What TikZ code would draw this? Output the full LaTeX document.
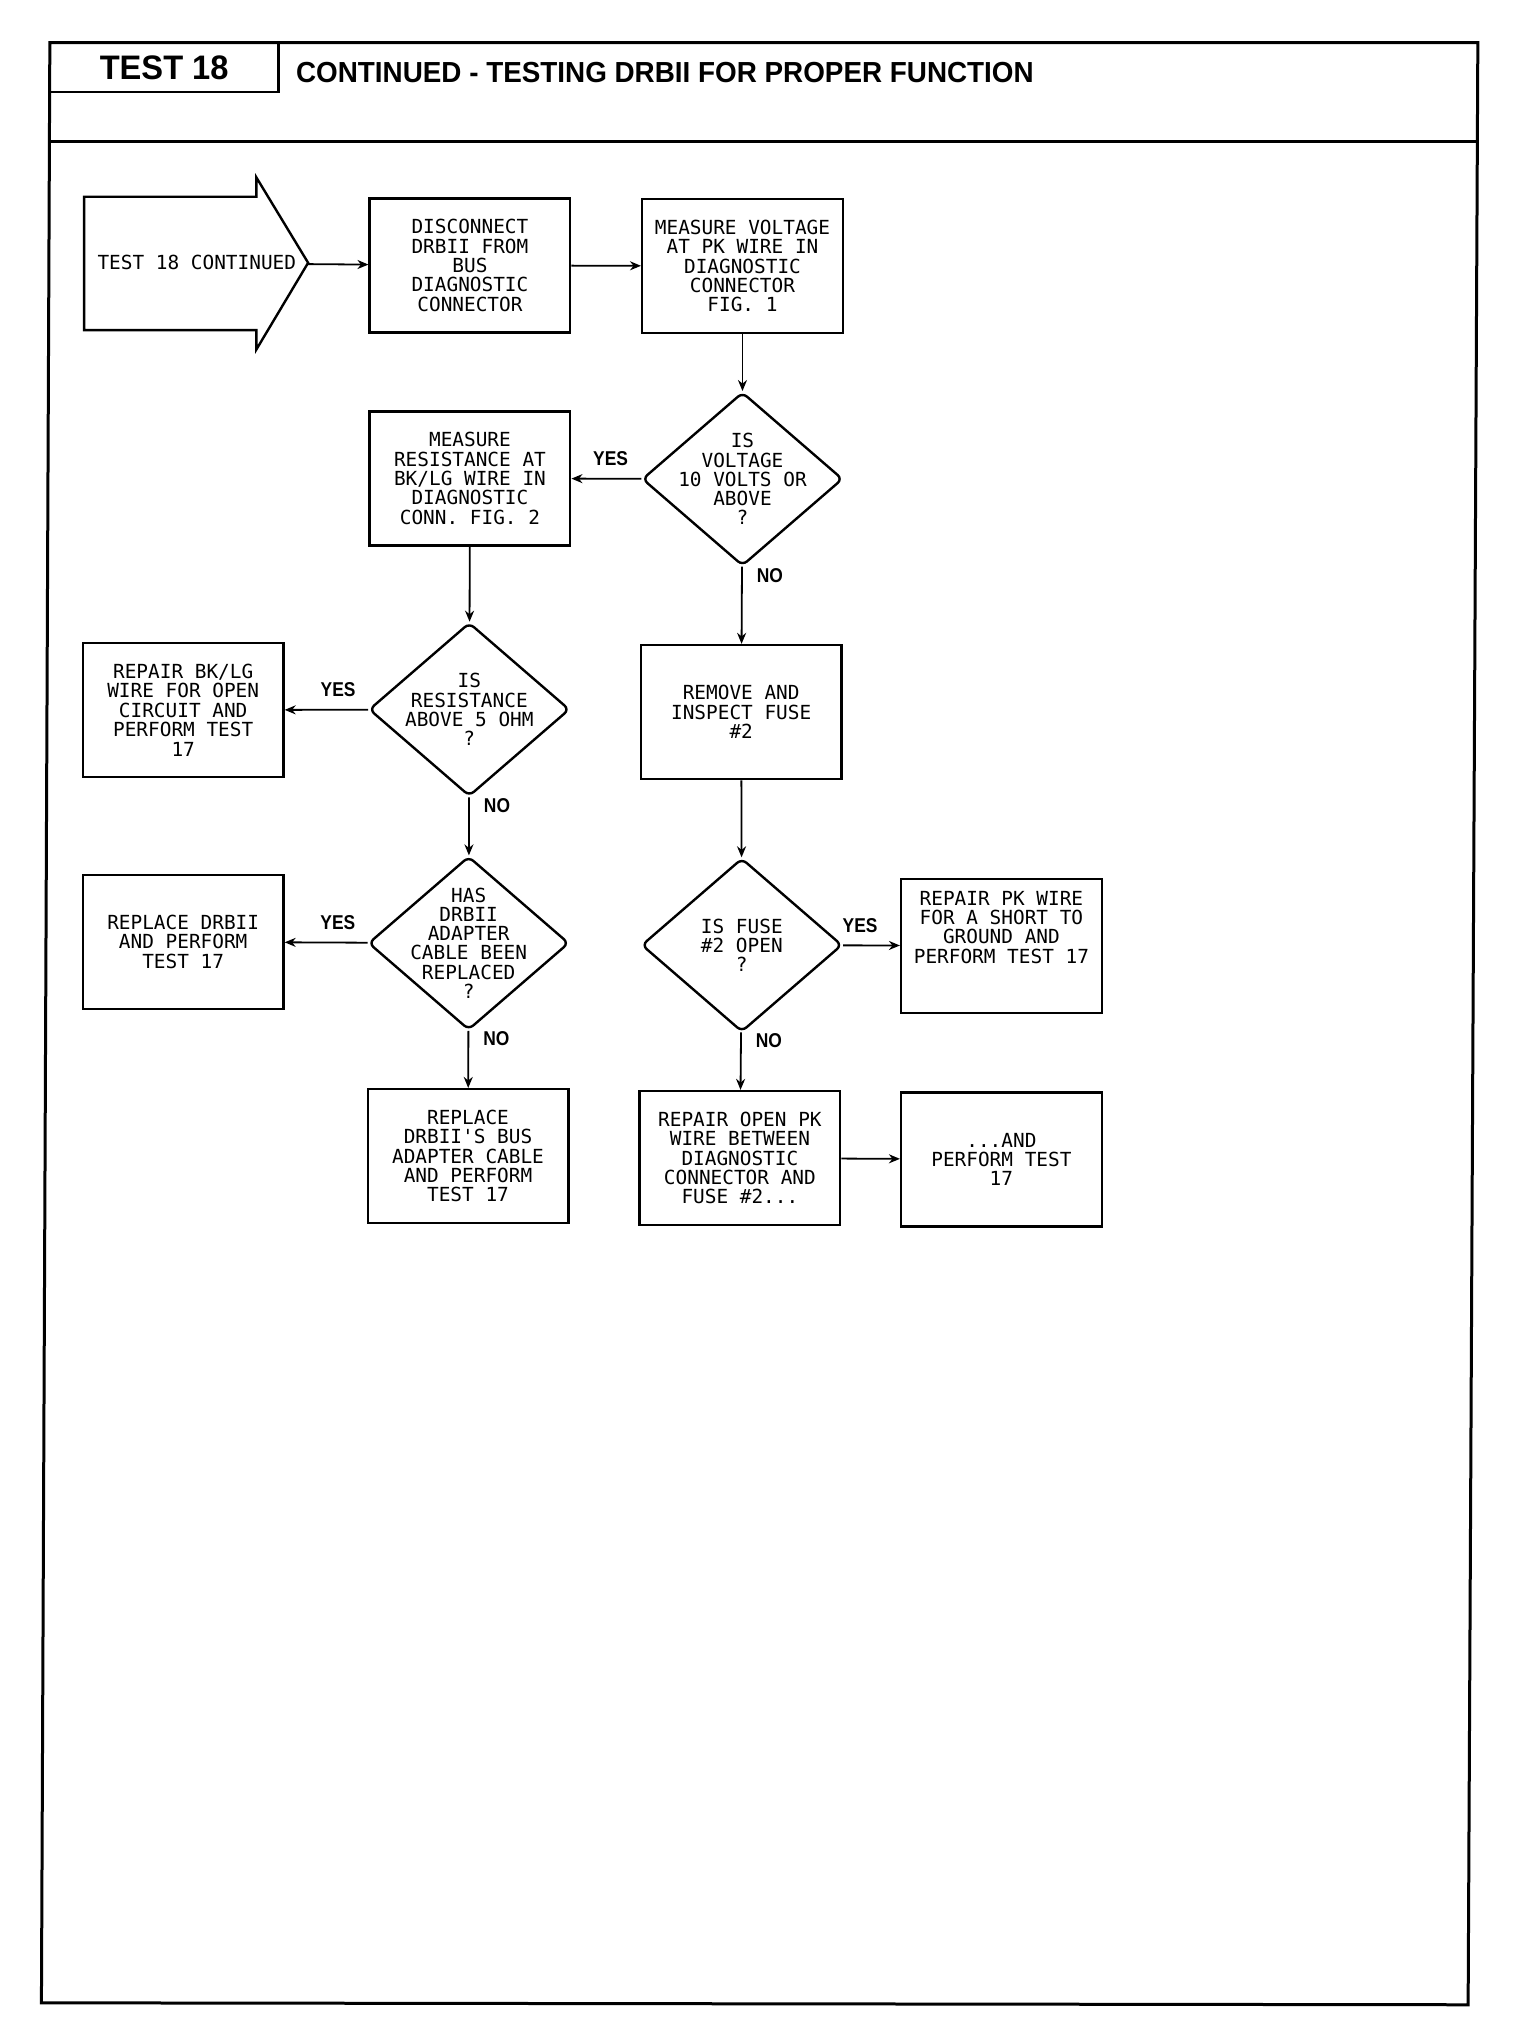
\documentclass[tikz,border=0pt]{standalone}
\usepackage{fontspec}
\usetikzlibrary{arrows.meta,shapes.geometric}
\newfontfamily\plotfont{DejaVu Sans Mono}[Ligatures=TeXOff]
\newfontfamily\headfont{Liberation Sans Bold}[FakeStretch=0.87]
\newfontfamily\titlefont{Liberation Sans Bold}[FakeStretch=0.96]
\tikzset{
  every picture/.style={line width=0.9pt},
  stepbox/.style={draw,line width=1.2pt,minimum width=100.3pt,minimum height=67pt,
    inner sep=0pt,align=center,font=\plotfont\fontsize{9.7}{9.7}\selectfont},
  query/.style={draw,diamond,line width=1.2pt,rounded corners=3pt,minimum width=100.3pt,
    minimum height=86.8pt,inner sep=0pt},
  qtext/.style={align=center,font=\plotfont\fontsize{9.7}{9.6}\selectfont,inner sep=0pt},
  flow/.style={-{Stealth[length=5.5pt,width=4.5pt]}},
  ans/.style={font=\headfont\fontsize{10}{10}\selectfont,inner sep=2pt}
}

\begin{document}
\begin{tikzpicture}[x=0.6474pt,y=-0.6474pt]
\useasboundingbox (0,0) rectangle (1174,1568);
% frame and title block
\draw[line width=1.5pt] (38.5,33) -- (1141.5,33) -- (1134,1548.5) -- (32,1547) -- cycle;
\draw[line width=1.5pt] (38.2,109) -- (1141.2,109);
\node[draw,line width=1.2pt,minimum width=114.3pt,minimum height=24.6pt,inner sep=0pt,
  font=\titlefont\fontsize{17}{17}\selectfont] (testno) at (126.8,52) {TEST 18};
\node[anchor=west,inner sep=0pt,font=\titlefont\fontsize{14.5}{14.5}\selectfont] (title)
  at (228,56) {CONTINUED - TESTING DRBII FOR PROPER FUNCTION};
% entry arrow
\draw[line width=1.2pt] (65,152) -- (198,152) -- (198,137) -- (238,203) -- (198,270)
  -- (198,255) -- (65,255) -- cycle;
\coordinate (tip) at (238,204);
\node[qtext] (entry) at (152,203) {TEST 18 CONTINUED};
% steps
\node[stepbox] (disc) at (363,205) {DISCONNECT\\DRBII FROM\\BUS\\DIAGNOSTIC\\CONNECTOR};
\node[stepbox] (measV) at (573.5,205.5) {MEASURE VOLTAGE\\AT PK WIRE IN\\DIAGNOSTIC\\CONNECTOR\\FIG. 1};
\node[query,label={[qtext]center:IS\\VOLTAGE\\10 VOLTS OR\\ABOVE\\?}] (volt) at (573.5,370) {};
\node[stepbox] (measR) at (363,369.5) {MEASURE\\RESISTANCE AT\\BK/LG WIRE IN\\DIAGNOSTIC\\CONN. FIG. 2};
\node[query,label={[qtext]center:IS\\RESISTANCE\\ABOVE 5 OHM\\?}] (ohm) at (362.5,548) {};
\node[stepbox] (bklg) at (141.5,548.5) {REPAIR BK/LG\\WIRE FOR OPEN\\CIRCUIT AND\\PERFORM TEST\\17};
\node[stepbox] (fuse) at (572.5,550) {REMOVE AND\\INSPECT FUSE\\\#2};
\node[query,label={[qtext]center:HAS\\DRBII\\ADAPTER\\CABLE BEEN\\REPLACED\\?}] (cable) at (362,728.5) {};
\node[stepbox] (newdrb) at (141.5,727.5) {REPLACE DRBII\\AND PERFORM\\TEST 17};
\node[stepbox] (newcab) at (361.5,893) {REPLACE\\DRBII'S BUS\\ADAPTER CABLE\\AND PERFORM\\TEST 17};
\node[query,label={[qtext]center:IS FUSE\\\#2 OPEN\\?}] (open) at (573,730) {};
\node[stepbox] (short) at (773.5,730.5) {REPAIR PK WIRE\\FOR A SHORT TO\\GROUND AND\\PERFORM TEST 17\\[9pt]};
\node[stepbox] (pkopen) at (571.5,894.5) {REPAIR OPEN PK\\WIRE BETWEEN\\DIAGNOSTIC\\CONNECTOR AND\\FUSE \#2...};
\node[stepbox] (retest) at (773.5,895.5) {...AND\\PERFORM TEST\\17};
% connectors
\draw[flow] (tip) -- (disc);
\draw[flow] (disc) -- (measV);
\draw[flow] (measV) -- (volt);
\draw[flow] (volt) -- node[ans,pos=0.44,above=4pt] (y1) {YES} (measR);
\draw[flow] (volt) -- node[ans,pos=0.12,right=5pt] (n1) {NO} (fuse);
\draw[flow] (measR) -- (ohm);
\draw[flow] (ohm) -- node[ans,pos=0.36,above=4pt] (y2) {YES} (bklg);
\draw[flow] (ohm) -- node[ans,pos=0.14,right=5pt] (n2) {NO} (cable);
\draw[flow] (cable) -- node[ans,pos=0.36,above=4pt] (y3) {YES} (newdrb);
\draw[flow] (cable) -- node[ans,pos=0.14,right=5pt] (n3) {NO} (newcab);
\draw[flow] (fuse) -- (open);
\draw[flow] (open) -- node[ans,pos=0.3,above=4pt] (y4) {YES} (short);
\draw[flow] (open) -- node[ans,pos=0.14,right=5pt] (n4) {NO} (pkopen);
\draw[flow] (pkopen) -- (retest);
\end{tikzpicture}
\end{document}
